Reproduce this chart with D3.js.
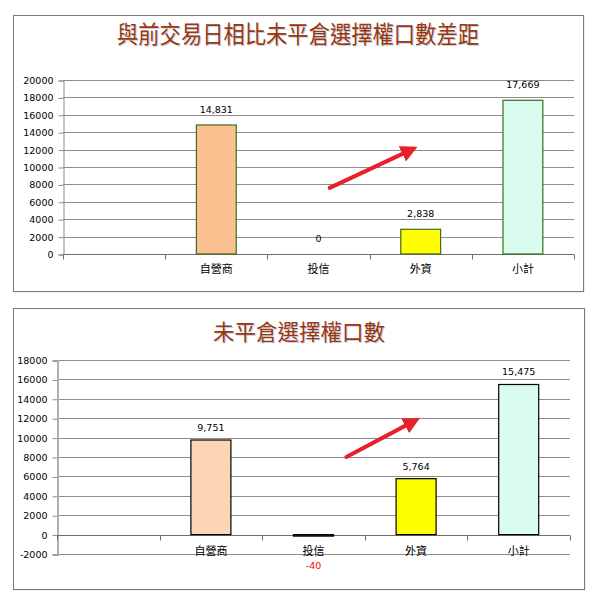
<!DOCTYPE html>
<html>
<head>
<meta charset="utf-8">
<script src="https://cdn.jsdelivr.net/npm/d3@7"></script>
<style>
  body { margin: 0; background: #fff; }
  text { font-family: "DejaVu Sans", Verdana, sans-serif; }
  .cjk { font-family: "Noto Sans CJK TC", "Noto Sans CJK SC", sans-serif; }
</style>
</head>
<body>
<div id="chart"></div>
<script>
// categories (first slot is empty in the original sheet)
const categories = ["", "自營商", "投信", "外資", "小計"];

// chart 1: 與前交易日相比未平倉選擇權口數差距
const title1 = "與前交易日相比未平倉選擇權口數差距";
const values1 = [null, 14831, 0, 2838, 17669];
const colors1 = [null, "#fac090", "#ffffff", "#ffff00", "#dafcee"];
const yTicks1 = [0, 2000, 4000, 6000, 8000, 10000, 12000, 14000, 16000, 18000, 20000];

// chart 2: 未平倉選擇權口數
const title2 = "未平倉選擇權口數";
const values2 = [null, 9751, -40, 5764, 15475];
const colors2 = [null, "#fcd5b4", "#333333", "#ffff00", "#dafcee"];
const yTicks2 = [-2000, 0, 2000, 4000, 6000, 8000, 10000, 12000, 14000, 16000, 18000];

// red arrow annotations: [category, fraction across band, value]
const arrow1 = [["投信", 0.61, 7600], ["外資", 0.41, 12000]];
const arrow2 = [["投信", 0.82, 8000], ["外資", 0.48, 11700]];

// plain hyphen for negatives, like the spreadsheet
const fmtComma = d3.formatLocale({ decimal: ".", thousands: ",", grouping: [3], currency: ["", ""], minus: "-" }).format(",");

const svg = d3.select("#chart").append("svg")
    .attr("width", 597)
    .attr("height", 600);

const defs = svg.append("defs");
defs.append("marker")
    .attr("id", "head")
    .attr("viewBox", "0 0 10 10")
    .attr("refX", 6)
    .attr("refY", 5)
    .attr("markerWidth", 4.2)
    .attr("markerHeight", 4.2)
    .attr("orient", "auto")
    .append("path")
    .attr("d", "M0,0 L10,5 L0,10 Z")
    .attr("fill", "#e8202a");

function drawChart(cfg) {
    const g = svg.append("g");

    // frame
    g.append("rect")
        .attr("x", cfg.frame[0] + 1.5).attr("y", cfg.frame[1] + 1.5)
        .attr("width", cfg.frame[2]).attr("height", cfg.frame[3])
        .attr("fill", "#dcdcdc");
    g.append("rect")
        .attr("x", cfg.frame[0] + 0.5).attr("y", cfg.frame[1] + 0.5)
        .attr("width", cfg.frame[2]).attr("height", cfg.frame[3])
        .attr("fill", "#fff")
        .attr("stroke", "#7a7a7a");

    // title (with faint shadow)
    [[1, "#c9d0e6"], [0, "#9a380c"]].forEach(([off, col]) => {
        g.append("text")
            .attr("class", "cjk")
            .attr("x", cfg.titleX + off).attr("y", cfg.titleY + off)
            .attr("text-anchor", "middle")
            .attr("font-size", cfg.titleSize)
            .attr("textLength", cfg.titleWidth)
            .attr("lengthAdjust", "spacingAndGlyphs")
            .attr("fill", col)
            .text(cfg.title);
    });

    const x = d3.scaleBand()
        .domain(categories)
        .range([cfg.left, cfg.right])
        .padding(0);

    const y = d3.scaleLinear()
        .domain(d3.extent(cfg.ticks))
        .range([cfg.bottom, cfg.top]);

    // gridlines
    g.append("g")
        .selectAll("line")
        .data(cfg.ticks.filter(t => t !== 0))
        .enter()
        .append("line")
        .attr("x1", cfg.left).attr("x2", cfg.right)
        .attr("y1", d => Math.round(y(d)) + 0.5)
        .attr("y2", d => Math.round(y(d)) + 0.5)
        .attr("stroke", "#8c8c8c");

    // y axis
    const yAxis = g.append("g")
        .attr("transform", `translate(${cfg.left + 0.5},0.5)`)
        .call(d3.axisLeft(y).tickValues(cfg.ticks).tickSize(5).tickPadding(5).tickFormat(d => String(d)));
    yAxis.select(".domain").attr("stroke", cfg.axisColor).attr("stroke-width", cfg.axisWidth);
    yAxis.selectAll(".tick line").attr("stroke", "#8c8c8c");
    yAxis.selectAll(".tick text")
        .attr("font-size", 9.5)
        .attr("fill", "#000")
        .attr("font-family", "DejaVu Sans, Verdana, sans-serif");

    // category axis at zero
    const y0 = Math.round(y(0)) + 0.5;
    const bounds = categories.map(c => x(c)).concat([cfg.right]);
    g.append("line")
        .attr("x1", cfg.left).attr("x2", cfg.right)
        .attr("y1", y0).attr("y2", y0)
        .attr("stroke", "#6e6e6e");
    g.append("g")
        .selectAll("line")
        .data(bounds)
        .enter()
        .append("line")
        .attr("x1", d => Math.round(d) + 0.5).attr("x2", d => Math.round(d) + 0.5)
        .attr("y1", y0).attr("y2", y0 + 5)
        .attr("stroke", "#6e6e6e");

    const data = categories.map((c, i) => ({ cat: c, value: cfg.values[i], color: cfg.colors[i] }))
        .filter(d => d.value !== null);

    const barW = x.bandwidth() * 0.39;

    // bars
    g.append("g")
        .selectAll("rect")
        .data(data.filter(d => d.value !== 0))
        .enter()
        .append("rect")
        .attr("x", d => x(d.cat) + (x.bandwidth() - barW) / 2)
        .attr("y", d => y(Math.max(0, d.value)))
        .attr("width", barW)
        .attr("height", d => Math.max(1.5, Math.abs(y(d.value) - y(0))))
        .attr("fill", d => d.color)
        .attr("stroke", cfg.barStroke)
        .attr("stroke-width", 1.2);

    // category labels
    g.append("g")
        .selectAll("text")
        .data(categories.filter(c => c !== ""))
        .enter()
        .append("text")
        .attr("class", "cjk")
        .attr("x", d => x(d) + x.bandwidth() / 2)
        .attr("y", cfg.catLabelY)
        .attr("text-anchor", "middle")
        .attr("font-size", 11)
        .attr("fill", "#000")
        .text(d => d);

    // value labels
    g.append("g")
        .selectAll("text")
        .data(data)
        .enter()
        .append("text")
        .attr("x", d => x(d.cat) + x.bandwidth() / 2)
        .attr("y", d => d.value < 0 ? y(d.value) + cfg.negOffset : y(d.value) - cfg.labelOffset)
        .attr("text-anchor", "middle")
        .attr("font-size", 9.5)
        .attr("fill", d => d.value < 0 ? "#ff0000" : "#000")
        .text(d => fmtComma(d.value));

    // annotation arrow
    const pts = cfg.arrow.map(a => [x(a[0]) + a[1] * x.bandwidth(), y(a[2])]);
    g.append("line")
        .attr("x1", pts[0][0]).attr("y1", pts[0][1])
        .attr("x2", pts[1][0]).attr("y2", pts[1][1])
        .attr("stroke", "#e8202a")
        .attr("stroke-width", 4)
        .attr("stroke-linecap", "round")
        .attr("marker-end", "url(#head)");
}

drawChart({
    frame: [13, 15, 570, 276],
    title: title1, titleX: 298, titleY: 43, titleSize: 24, titleWidth: 362,
    values: values1, colors: colors1, ticks: yTicks1,
    left: 63, right: 574, top: 80, bottom: 254,
    axisColor: "#8c8c8c", axisWidth: 1,
    barStroke: "#3f6b1e",
    catLabelY: 273, labelOffset: 12, negOffset: 30,
    arrow: arrow1
});

drawChart({
    frame: [13, 308, 571, 281],
    title: title2, titleX: 299, titleY: 340, titleSize: 22, titleWidth: 172,
    values: values2, colors: colors2, ticks: yTicks2,
    left: 57, right: 570, top: 360, bottom: 554,
    axisColor: "#b0b0b0", axisWidth: 2,
    barStroke: "#000",
    catLabelY: 555, labelOffset: 9, negOffset: 34,
    arrow: arrow2
});
</script>
</body>
</html>
